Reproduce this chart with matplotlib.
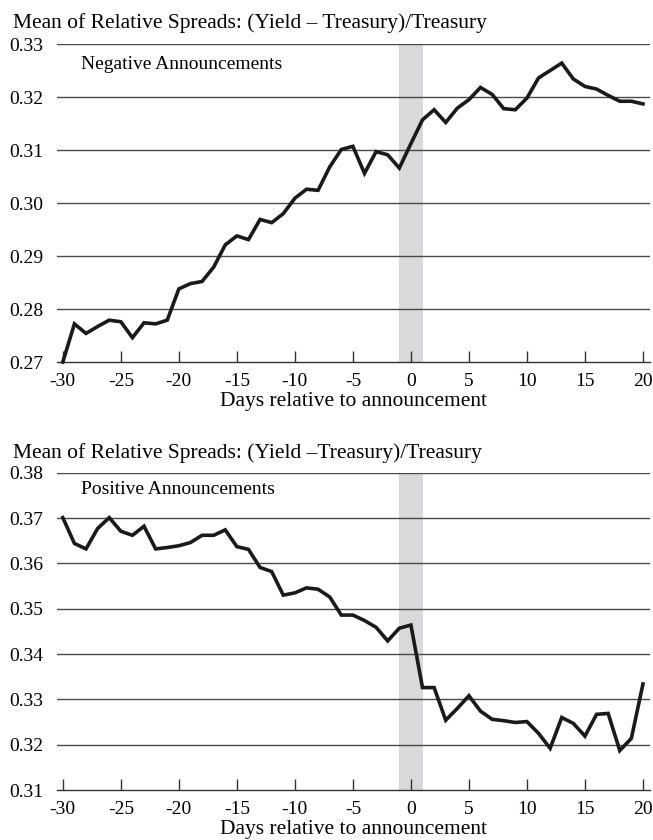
import numpy as np
import matplotlib.pyplot as plt

plt.rcParams['font.family'] = ['Liberation Serif', 'DejaVu Serif']

# ------- data -------
days = list(range(-30, 21))

neg_spread = [0.2700, 0.2772, 0.2754, 0.2767, 0.2779, 0.2776, 0.2746, 0.2774, 0.2772, 0.2779,
              0.2838, 0.2848, 0.2852, 0.2879, 0.2921, 0.2938, 0.2931, 0.2969, 0.2963, 0.2980,
              0.3009, 0.3026, 0.3024, 0.3068, 0.3101, 0.3107, 0.3056, 0.3097, 0.3091, 0.3066,
              0.3112, 0.3157, 0.3176, 0.3152, 0.3179, 0.3195, 0.3218, 0.3205, 0.3178, 0.3176,
              0.3198, 0.3236, 0.3250, 0.3264, 0.3234, 0.3220, 0.3215, 0.3203, 0.3192, 0.3192,
              0.3187]

pos_spread = [0.3701, 0.3644, 0.3632, 0.3677, 0.3701, 0.3671, 0.3662, 0.3682, 0.3632, 0.3635,
              0.3639, 0.3646, 0.3662, 0.3662, 0.3674, 0.3637, 0.3631, 0.3591, 0.3582, 0.3530,
              0.3535, 0.3546, 0.3543, 0.3526, 0.3486, 0.3486, 0.3474, 0.3459, 0.3429, 0.3457,
              0.3464, 0.3326, 0.3326, 0.3254, 0.3280, 0.3308, 0.3274, 0.3256, 0.3253, 0.3249,
              0.3251, 0.3225, 0.3192, 0.3260, 0.3247, 0.3219, 0.3267, 0.3269, 0.3187, 0.3214,
              0.3334]

xticks = [-30, -25, -20, -15, -10, -5, 0, 5, 10, 15, 20]
neg_yticks = [0.27, 0.28, 0.29, 0.30, 0.31, 0.32, 0.33]
pos_yticks = [0.31, 0.32, 0.33, 0.34, 0.35, 0.36, 0.37, 0.38]
band = (-1, 1)

title = "Mean of Relative Spreads: (Yield \u2013 Treasury)/Treasury"
title2 = "Mean of Relative Spreads: (Yield \u2013Treasury)/Treasury"

# ------- figure -------
fig = plt.figure(figsize=(6.53, 8.4), dpi=100)
ax1 = fig.add_axes([0.0873, 0.569, 0.908, 0.3786])
ax2 = fig.add_axes([0.0873, 0.0595, 0.908, 0.3777])


def style(ax, y, yticks, label):
    ax.axvspan(band[0], band[1], color='#d9d9db', lw=0, zorder=0)
    for yt in yticks[1:]:
        ax.axhline(yt, color='#4a4a4a', lw=1.0, zorder=1)
    ax.plot(days, y, color='#1a1a1a', lw=2.6, zorder=3, clip_on=False,
            solid_joinstyle='miter')
    ax.set_xlim(-30.5, 20.6)
    ax.set_ylim(yticks[0], yticks[-1])
    ax.set_xticks(xticks)
    ax.set_xticklabels([str(t) for t in xticks])
    ax.set_yticks(yticks)
    ax.set_yticklabels(['%.2f' % t for t in yticks])
    for s in ['left', 'right', 'top']:
        ax.spines[s].set_visible(False)
    ax.spines['bottom'].set_color('#333333')
    ax.spines['bottom'].set_linewidth(1.0)
    ax.tick_params(axis='x', direction='in', length=8, width=1.0, color='#333333',
                   labelsize=14, pad=8)
    ax.tick_params(axis='y', length=0, labelsize=14, pad=10)
    ax.set_xlabel('Days relative to announcement', fontsize=15.5, labelpad=1)
    ax.text(-28.4, yticks[-1] - 0.0038, label, fontsize=14, va='center', ha='left')


style(ax1, neg_spread, neg_yticks, 'Negative Announcements')
style(ax2, pos_spread, pos_yticks, 'Positive Announcements')

fig.text(0.02, 0.9667, title, fontsize=15.5, va='baseline', ha='left')
fig.text(0.02, 0.4548, title2, fontsize=15.5, va='baseline', ha='left')

plt.savefig('out.png', dpi=100)
